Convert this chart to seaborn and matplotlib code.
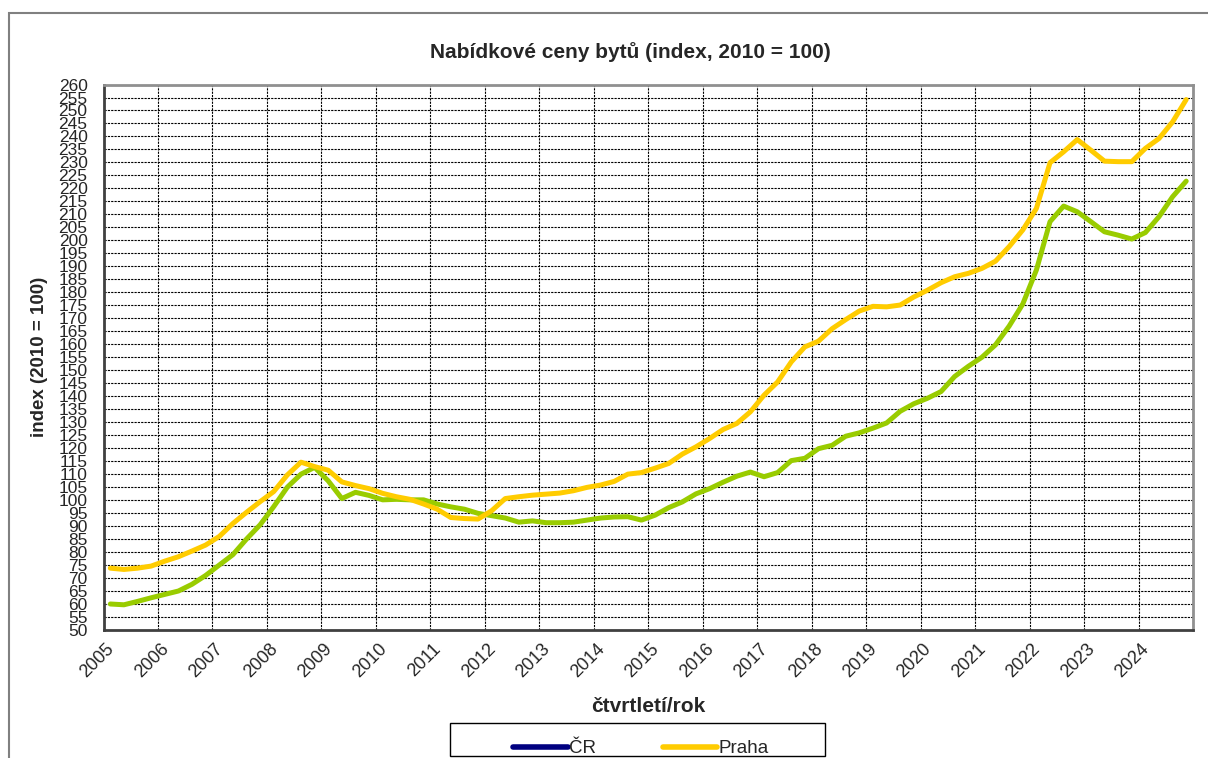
import matplotlib as mpl
mpl.use("Agg")
import matplotlib.pyplot as plt
import matplotlib.transforms as mtransforms
from matplotlib.lines import Line2D
from matplotlib.patches import Rectangle
import numpy as np
import pandas as pd
import seaborn as sns

YEARS = list(range(2005, 2025))

# quarterly index values (2010 = 100), 2005Q1 .. 2024Q4
CR = [60.0, 59.7, 61.0, 62.4,
      63.7, 65.0, 67.6, 71.0,
      75.0, 79.0, 85.0, 90.5,
      97.5, 105.0, 110.0, 112.6,
      107.4, 100.6, 103.0, 101.8,
      100.1, 100.3, 100.1, 100.1,
      98.5, 97.4, 96.5, 94.9,
      94.0, 93.1, 91.5, 92.0,
      91.3, 91.3, 91.5, 92.3,
      93.1, 93.5, 93.6, 92.3,
      94.2, 97.1, 99.3, 102.4,
      104.4, 106.9, 109.2, 110.8,
      109.0, 110.6, 115.2, 116.1,
      119.8, 121.1, 124.6, 125.9,
      127.7, 129.7, 134.2, 137.1,
      139.2, 141.8, 147.6, 151.5,
      155.0, 159.8, 167.0, 175.5,
      188.6, 207.2, 213.2, 211.0,
      207.2, 203.3, 202.0, 200.5,
      203.0, 209.1, 216.8, 222.8]

PRAHA = [73.8, 73.3, 73.8, 74.6,
         76.5, 78.2, 80.4, 82.7,
         86.0, 91.0, 95.3, 99.4,
         103.3, 109.7, 114.6, 112.9,
         111.5, 107.0, 105.6, 104.4,
         102.6, 101.3, 100.3, 98.5,
         96.5, 93.3, 92.9, 92.7,
         95.9, 100.6, 101.3, 101.9,
         102.3, 102.7, 103.6, 104.9,
         105.8, 107.2, 110.0, 110.6,
         112.3, 114.1, 117.7, 120.5,
         123.7, 127.2, 129.5, 134.0,
         140.4, 145.5, 153.2, 159.0,
         161.2, 166.0, 169.5, 172.8,
         174.6, 174.4, 175.1, 178.2,
         180.8, 183.7, 186.0, 187.3,
         189.2, 192.0, 197.6, 204.0,
         212.3, 229.9, 234.1, 238.8,
         234.7, 230.5, 230.3, 230.3,
         235.4, 239.2, 245.6, 254.2]

SERIES = ["ČR", "Praha"]
LINE_COLORS = {"ČR": "#99CC00", "Praha": "#FFCC00"}
# the source legend shows ČR in navy although its line is green
LEGEND_COLORS = {"ČR": "#000080", "Praha": "#FFCC00"}

sns.set_style("white")
plt.rcParams["font.family"] = ["Liberation Sans", "DejaVu Sans"]

# each quarter sits in the middle of its slot between year ticks
quarters = [y + (q - 0.5) / 4 for y in YEARS for q in range(1, 5)]
df = pd.DataFrame({
    "t": quarters * 2,
    "value": CR + PRAHA,
    "series": ["ČR"] * len(CR) + ["Praha"] * len(PRAHA),
})

fig = plt.figure(figsize=(12.08, 7.58), dpi=100)
ax = fig.add_axes([0.0857, 0.1689, 0.9019, 0.7196])

sns.lineplot(data=df, x="t", y="value", hue="series", palette=LINE_COLORS,
             linewidth=3.6, legend=False, ax=ax, zorder=3)

ax.set_xlim(2005, 2025)
ax.set_ylim(50, 260)
ax.set_yticks(np.arange(50, 261, 5))
ax.set_xticks(YEARS + [2025])
ax.set_xticklabels([str(y) for y in YEARS] + [""], rotation=45, ha="center")
ax.tick_params(axis="both", length=4.5, width=1, color="#333333", direction="out")
ax.tick_params(axis="y", pad=7, labelsize=12.5)
ax.tick_params(axis="x", pad=3, labelsize=13)

# rotated year labels sit a little left of their tick, as in the source
shift = mtransforms.ScaledTranslation(-0.06, 0, fig.dpi_scale_trans)
for lbl in ax.get_xticklabels():
    lbl.set_transform(lbl.get_transform() + shift)

ax.grid(True, which="major", color="black", linestyle=(0, (2, 1)), linewidth=0.8)
ax.set_axisbelow(True)

for side in ["left", "bottom"]:
    ax.spines[side].set_color("#404040")
    ax.spines[side].set_linewidth(2)
for side in ["top", "right"]:
    ax.spines[side].set_color("#909090")
    ax.spines[side].set_linewidth(2)

ax.set_xlabel("čtvrtletí/rok", fontsize=15, fontweight="bold")
ax.xaxis.set_label_coords(0.4998, -0.122)
ax.set_ylabel("index (2010 = 100)", fontsize=13.5, fontweight="bold")
ax.yaxis.set_label_coords(-0.051, 0.5)

fig.text(0.522, 0.931, "Nabídkové ceny bytů (index, 2010 = 100)",
         ha="center", va="center", fontsize=15, fontweight="bold")

# outer chart border (cut off at right and bottom like the source)
fig.patches.append(Rectangle((0.0075, -0.1), 1.2, 1.0 - 0.0168 + 0.1,
                             transform=fig.transFigure, fill=False,
                             edgecolor="#808080", linewidth=1.5))

# legend frame drawn separately so its width matches the source
fig.patches.append(Rectangle((0.3725, 0.0026), 0.3104, 0.0435,
                             transform=fig.transFigure, fill=False,
                             edgecolor="black", linewidth=1.0))

handles = [Line2D([0], [0], color=LEGEND_COLORS[s], linewidth=4) for s in SERIES]
leg = fig.legend(handles, SERIES, loc="center", bbox_to_anchor=(0.5306, 0.0125),
                 ncol=2, fontsize=13.5, frameon=False, handlelength=2.9,
                 handletextpad=0.05, columnspacing=3.6, borderpad=0)

fig.savefig("out.png", dpi=100)
